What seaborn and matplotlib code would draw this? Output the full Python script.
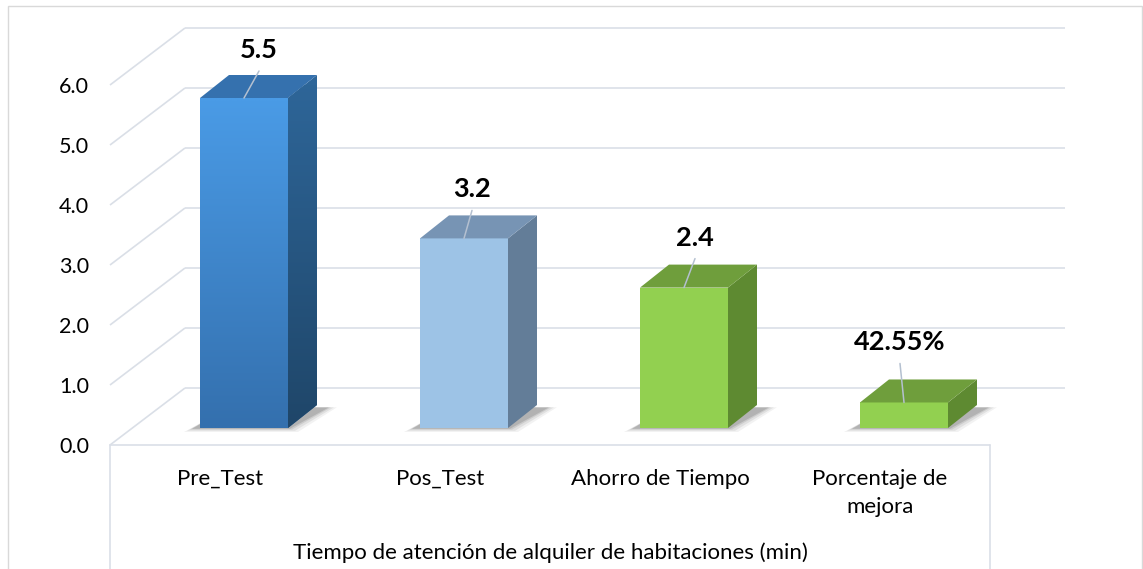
import matplotlib
matplotlib.use('Agg')
import matplotlib.pyplot as plt
from matplotlib.patches import Polygon, Rectangle
import seaborn as sns
import numpy as np
import pandas as pd

# data
categories = ['Pre_Test', 'Pos_Test', 'Ahorro de Tiempo', 'Porcentaje de\nmejora']
values = [5.50, 3.16, 2.34, 0.4255]
value_labels = ['5.5', '3.2', '2.4', '42.55%']
y_ticks = [0, 1, 2, 3, 4, 5, 6]
x_title = 'Tiempo de atención de alquiler de habitaciones (min)'

# colours of the 3d boxes (front top / front bottom, side top / side bottom, top face)
front_top = ['#4A9BE6', '#9DC3E6', '#92D050', '#92D050']
front_bottom = ['#3470AE', '#9DC3E6', '#92D050', '#92D050']
side_top = ['#2E6699', '#637D98', '#5E8A31', '#5E8A31']
side_bottom = ['#1F4669', '#637D98', '#5E8A31', '#5E8A31']
top_face = ['#3571AE', '#7794B4', '#6F9E3C', '#6F9E3C']

GRID = '#DADFE7'
PX_X = 220.0   # pixels per category
PX_Y = 60.0    # pixels per unit
WALL_DX, WALL_DY = 75 / PX_X, 57 / PX_Y       # depth of the walls
BAR_X0, BAR_Y0 = 24 / PX_X, 17 / PX_Y         # bars sit inside the floor
BAR_DX, BAR_DY = 29 / PX_X, 23 / PX_Y         # bar depth
# leader line shift (px) for each value label
leader_dx = [15, 8, 11, -4]
leader_dy = [27, 28, 29, 39]

sns.set_style('white')
plt.rcParams['font.family'] = ['Lato', 'DejaVu Sans']

fig = plt.figure(figsize=(11.43, 5.69), dpi=100)
ax = fig.add_axes([110 / 1143, (569 - 445) / 569, 880 / 1143, 360 / 569])

df = pd.DataFrame({'categoria': categories, 'valor': values})
sns.barplot(data=df, x='categoria', y='valor', hue='categoria', palette=front_top,
            width=0.4, saturation=1, legend=False, ax=ax)

ax.set_xlim(-0.5, 3.5)
ax.set_ylim(0, 6)
for s in ax.spines.values():
    s.set_visible(False)

# walls: left diagonals + back wall gridlines
x_left, x_right = -0.5, 3.5
for v in y_ticks:
    ax.plot([x_left, x_left + WALL_DX], [v, v + WALL_DY], color=GRID, lw=1.2,
            zorder=0.5, clip_on=False, solid_capstyle='butt')
    ax.plot([x_left + WALL_DX, x_right + WALL_DX], [v + WALL_DY, v + WALL_DY],
            color=GRID, lw=1.2, zorder=0.5, clip_on=False, solid_capstyle='butt')
# front floor edge + category box
y_bottom = -(569 - 445) / PX_Y
ax.plot([x_left, x_right], [0, 0], color=GRID, lw=1.2, zorder=0.5, clip_on=False)
ax.plot([x_left, x_left], [0, y_bottom], color=GRID, lw=1.2, zorder=0.5, clip_on=False)
ax.plot([x_right, x_right], [0, y_bottom], color=GRID, lw=1.2, zorder=0.5, clip_on=False)


def gradient(ax, artist, c1, c2, x0, x1, y0, y1):
    cols = np.array([matplotlib.colors.to_rgb(c) for c in (c2, c1)])
    t = np.linspace(0, 1, 64)[:, None]
    img = cols[0] * (1 - t[..., None]) + cols[1] * t[..., None]
    im = ax.imshow(img, extent=(x0, x1, y0, y1), origin='lower', aspect='auto',
                   zorder=artist.get_zorder() + 0.01, interpolation='bilinear')
    im.set_clip_path(artist)
    im.set_clip_on(True)


bars = ax.patches[:len(values)]
for i, p in enumerate(bars):
    p.set_x(p.get_x() + BAR_X0)
    p.set_y(BAR_Y0)
    p.set_zorder(2)
    p.set_edgecolor('none')
    p.set_clip_on(False)
    x0, w, h = p.get_x(), p.get_width(), p.get_height()
    b = BAR_Y0

    # soft shadow on the floor
    for k, a in zip([10, 7, 4, 2], [0.05, 0.07, 0.09, 0.12]):
        ex, ey = k / PX_X, k / PX_Y
        sh = Polygon([(x0 - ex - 6 / PX_X, b - ey * 0.4), (x0 + w + ex, b - ey * 0.4),
                      (x0 + w + BAR_DX + ex + 10 / PX_X, b + BAR_DY * 0.9),
                      (x0 + BAR_DX, b + BAR_DY * 0.9)],
                     closed=True, facecolor='#000000', alpha=a, edgecolor='none',
                     zorder=1, clip_on=False)
        ax.add_patch(sh)

    side = Polygon([(x0 + w, b), (x0 + w, b + h), (x0 + w + BAR_DX, b + h + BAR_DY),
                    (x0 + w + BAR_DX, b + BAR_DY)], closed=True,
                   facecolor=side_top[i], edgecolor='none', zorder=2, clip_on=False)
    ax.add_patch(side)
    top = Polygon([(x0, b + h), (x0 + w, b + h), (x0 + w + BAR_DX, b + h + BAR_DY),
                   (x0 + BAR_DX, b + h + BAR_DY)], closed=True,
                  facecolor=top_face[i], edgecolor='none', zorder=2, clip_on=False)
    ax.add_patch(top)
    if front_top[i] != front_bottom[i]:
        gradient(ax, p, front_top[i], front_bottom[i], x0, x0 + w, b, b + h)
        gradient(ax, side, side_top[i], side_bottom[i], x0 + w, x0 + w + BAR_DX,
                 b, b + h + BAR_DY)

    # leader line + value label
    cx = x0 + w / 2
    lx = cx + leader_dx[i] / PX_X
    ly = b + h + leader_dy[i] / PX_Y
    ax.plot([cx, lx], [b + h, ly], color='#B4C0D0', lw=1.1, zorder=3, clip_on=False)
    ax.text(lx, ly + 21 / PX_Y, value_labels[i], ha='center', va='center',
            fontsize=19.5, fontweight='bold', color='black', zorder=4)

ax.set_xlim(-0.5, 3.5)
ax.set_ylim(0, 6)
ax.set_yticks(y_ticks, labels=[f'{v:.1f}' for v in y_ticks])
ax.set_xticks(range(len(categories)), labels=categories)
ax.tick_params(axis='y', length=0, pad=15, labelsize=15.5, labelcolor='black')
ax.tick_params(axis='x', length=0, pad=17, labelsize=16, labelcolor='black')
for lab in ax.get_xticklabels():
    lab.set_linespacing(1.55)
ax.set_ylabel('')
ax.set_xlabel(x_title, fontsize=16, color='black')
ax.xaxis.set_label_coords(0.5, -0.27)

# outer chart border
fig.patches.append(Rectangle((8 / 1143, -0.01), 1134 / 1143, 1 - 6 / 569 + 0.01,
                             transform=fig.transFigure, fill=False,
                             edgecolor='#D9D9D9', lw=1.0))

fig.savefig('out.png', dpi=100)
plt.close(fig)
